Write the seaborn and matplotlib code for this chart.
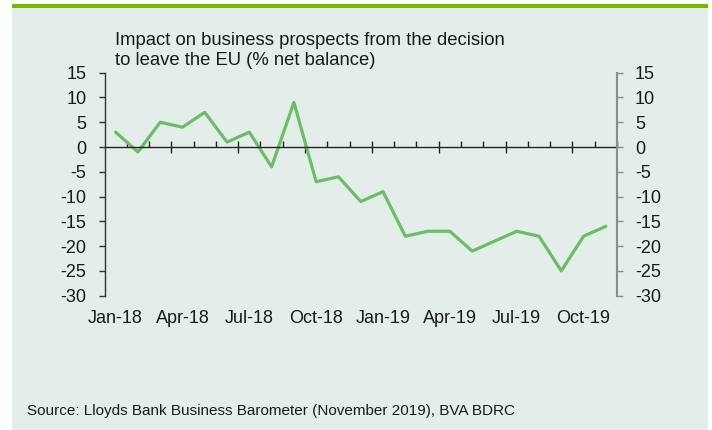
import numpy as np
import pandas as pd
import matplotlib
matplotlib.use("Agg")
import matplotlib.pyplot as plt
from matplotlib.patches import Rectangle
from matplotlib.ticker import FixedLocator, NullFormatter
import seaborn as sns

# Monthly net balance, Jan-18 to Nov-19
months = ["Jan-18", "Feb-18", "Mar-18", "Apr-18", "May-18", "Jun-18", "Jul-18",
          "Aug-18", "Sep-18", "Oct-18", "Nov-18", "Dec-18", "Jan-19", "Feb-19",
          "Mar-19", "Apr-19", "May-19", "Jun-19", "Jul-19", "Aug-19", "Sep-19",
          "Oct-19", "Nov-19"]
net_balance = [3, -1, 5, 4, 7, 1, 3, -4, 9, -7, -6, -11, -9, -18, -17, -17,
               -21, -19, -17, -18, -25, -18, -16]
y_ticks = [15, 10, 5, 0, -5, -10, -15, -20, -25, -30]
x_label_months = ["Jan-18", "Apr-18", "Jul-18", "Oct-18", "Jan-19", "Apr-19",
                  "Jul-19", "Oct-19"]

title_lines = ["Impact on business prospects from the decision",
               "to leave the EU (% net balance)"]
source = "Source: Lloyds Bank Business Barometer (November 2019), BVA BDRC"

PANEL = "#e3eeea"
BAR = "#77b800"
LINE = "#6cbd68"
TEXT = "#1a1a1a"

sns.set_theme(style="ticks")
plt.rcParams["font.family"] = ["Liberation Sans", "DejaVu Sans"]

df = pd.DataFrame({"pos": np.arange(len(months)), "month": months,
                   "value": net_balance})

W, H = 712, 430
fig = plt.figure(figsize=(W / 100, H / 100), dpi=100, facecolor="white")

# light panel with a green rule along its top edge (kept behind the axes)
fig.patches.append(Rectangle((12 / W, 0), 696 / W, 1 - 8 / H,
                             transform=fig.transFigure, facecolor=PANEL,
                             edgecolor="none", zorder=-2))
fig.patches.append(Rectangle((12 / W, 1 - 8 / H), 696 / W, 4 / H,
                             transform=fig.transFigure, facecolor=BAR,
                             edgecolor="none", zorder=-2))

left, right = 104.5 / W, 617 / W
top, bottom = 1 - 72.7 / H, 1 - 295.7 / H
ax = fig.add_axes([left, bottom, right - left, top - bottom])
ax.set_facecolor("none")

sns.lineplot(data=df, x="pos", y="value", ax=ax, color=LINE, linewidth=2.3,
             legend=False)

ax.set_xlim(-0.5, len(months) - 0.5)
ax.set_ylim(-30, 15)
ax.set_xlabel("")
ax.set_ylabel("")

# left value axis
ax.set_yticks(y_ticks)
ax.set_yticklabels([str(v) for v in y_ticks])
ax.tick_params(axis="y", direction="out", length=4, width=1, color="#333333",
               labelsize=13, labelcolor=TEXT, pad=9)
ax.spines["left"].set_color("#333333")
ax.spines["left"].set_linewidth(1)
ax.spines["top"].set_visible(False)
ax.spines["right"].set_visible(False)

# category axis drawn along zero, ticks on month boundaries
ax.spines["bottom"].set_position(("data", 0))
ax.spines["bottom"].set_color("#222222")
ax.spines["bottom"].set_linewidth(1)
boundaries = np.arange(len(months) + 1) - 0.5
quarter_marks = [b for b in boundaries if (b + 0.5) % 3 == 0 and 0 < b < len(months) - 1]
other_marks = [b for b in boundaries if b not in quarter_marks and b > -0.5]
ax.xaxis.set_major_locator(FixedLocator(quarter_marks))
ax.xaxis.set_minor_locator(FixedLocator(other_marks))
ax.xaxis.set_major_formatter(NullFormatter())
ax.tick_params(axis="x", which="major", direction="inout", length=8, width=1,
               color="#222222")
ax.tick_params(axis="x", which="minor", direction="in", length=4, width=1,
               color="#222222")

# month labels along the bottom of the plot area
label_pos = [months.index(m) for m in x_label_months]
sec = ax.secondary_xaxis("bottom")
sec.set_xticks(label_pos)
sec.set_xticklabels(x_label_months)
sec.tick_params(length=0, labelsize=13, labelcolor=TEXT, pad=10)
sec.spines["bottom"].set_visible(False)

# mirrored value axis on the right
ax2 = ax.twinx()
ax2.set_ylim(ax.get_ylim())
ax2.set_yticks(y_ticks)
ax2.set_yticklabels([str(v) for v in y_ticks])
ax2.tick_params(axis="y", direction="out", length=4, width=1, color="#8c8c8c",
                labelsize=13, labelcolor=TEXT, pad=9)
for side in ["left", "top", "bottom"]:
    ax2.spines[side].set_visible(False)
ax2.spines["right"].set_color("#8c8c8c")
ax2.spines["right"].set_linewidth(1.5)
ax2.grid(False)
ax.grid(False)

fig.text(115 / W, 1 - 45 / H, title_lines[0], fontsize=13.3, color=TEXT,
         va="baseline", ha="left")
fig.text(115 / W, 1 - 65 / H, title_lines[1], fontsize=13.3, color=TEXT,
         va="baseline", ha="left")
fig.text(27 / W, 1 - 415 / H, source, fontsize=11, color=TEXT,
         va="baseline", ha="left")

fig.savefig("out.png", dpi=100, facecolor="white")
